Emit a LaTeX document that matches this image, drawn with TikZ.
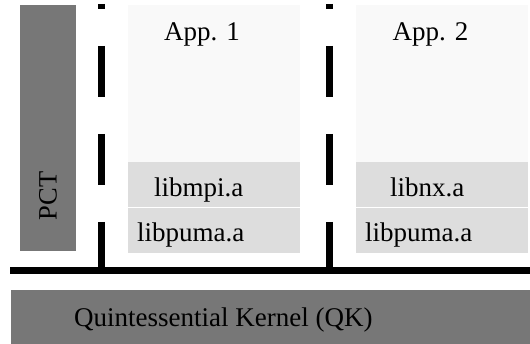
\documentclass[tikz,border=0pt]{standalone}
\usepackage{fontspec}
\setmainfont{Liberation Serif}
\begin{document}
\begin{tikzpicture}[x=1pt,y=-1pt,
  lbl/.style={inner sep=0pt,anchor=base west,font=\fontsize{27}{30}\selectfont},
  appbox/.style={fill=appgray,draw=none},
  libbox/.style={fill=libgray,draw=none},
  darkbox/.style={fill=darkgray7,draw=none},
  sepline/.style={line width=6.7pt,black,dash pattern=on 51pt off 37pt,dash phase=46pt},
  busline/.style={line width=6.7pt,black}]
\definecolor{appgray}{HTML}{F9F9F9}
\definecolor{libgray}{HTML}{DDDDDD}
\definecolor{darkgray7}{HTML}{777777}
\useasboundingbox (0,0) rectangle (530,344);
% PCT
\path[darkbox] (20,5) rectangle (76,251);
\node[inner sep=0pt,anchor=base,rotate=90,font=\fontsize{26.5}{30}\selectfont] (pct) at (56.5,196) {PCT};
% apps
\path[appbox] (128,5) rectangle (300,162);
\path[appbox] (356,5) rectangle (528,162);
\path[libbox] (128,162) rectangle (300,207);
\path[libbox] (128,208) rectangle (300,253);
\path[libbox] (356,162) rectangle (528,207);
\path[libbox] (356,208) rectangle (528,253);
\node[lbl] (app1) at (164,41) {App. 1};
\node[lbl] (app2) at (392.5,41) {App. 2};
\node[lbl] (mpi) at (154,197) {libmpi.a};
\node[lbl] (puma1) at (137,242) {libpuma.a};
\node[lbl] (nx) at (390,197) {libnx.a};
\node[lbl] (puma2) at (365,242) {libpuma.a};
% separators
\coordinate (s1t) at (101.7,4);
\coordinate (s1b) at (101.7,270);
\coordinate (s2t) at (329.3,4);
\coordinate (s2b) at (329.3,270);
\draw[sepline] (s1t) -- (s1b);
\draw[sepline] (s2t) -- (s2b);
\coordinate (bl) at (10,270.7);
\coordinate (br) at (530,270.7);
\draw[busline] (bl) -- (br);
% QK
\path[darkbox] (11,290) rectangle (530,344);
\node[lbl] (qk) at (74,327) {Quintessential Kernel (QK)};
\end{tikzpicture}
\end{document}
